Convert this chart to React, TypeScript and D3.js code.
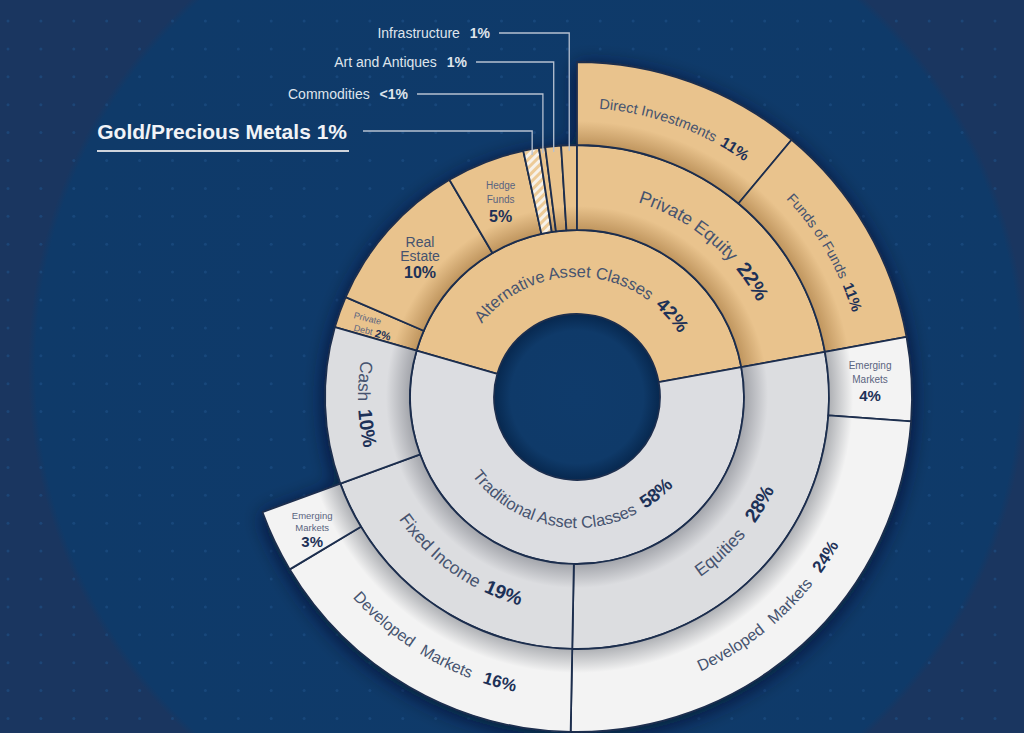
import * as d3 from 'd3';

// inner ring
const GROUP_NAMES = ['Alternative Asset Classes', 'Traditional Asset Classes'];
const GROUP_PCT = ['42%', '58%'];

// middle ring
const ALT_NAMES = ['Private Debt', 'Real Estate', 'Hedge Funds', 'Gold/Precious Metals', 'Commodities', 'Art and Antiques', 'Infrastructure', 'Private Equity'];
const ALT_VALUES = [2, 10, 5, 1, 0.4, 1, 1, 22];
const ALT_PCT = ['2%', '10%', '5%', '1%', '<1%', '1%', '1%', '22%'];

const TRAD_NAMES = ['Equities', 'Fixed Income', 'Cash'];
const TRAD_VALUES = [28, 19, 10];
const TRAD_PCT = ['28%', '19%', '10%'];

// outer ring
const PE_NAMES = ['Direct Investments', 'Funds of Funds'];
const PE_VALUES = [11, 11];
const EQ_NAMES = ['Emerging Markets', 'Developed Markets'];
const EQ_VALUES = [4, 24];
const FI_NAMES = ['Developed Markets', 'Emerging Markets'];
const FI_VALUES = [16, 3];

const CALLOUTS = ['Infrastructure', 'Art and Antiques', 'Commodities', 'Gold/Precious Metals'];

type Datum = { id: string; name: string; pct: string; value: number; children?: Datum[] };

const SUB: Record<string, [string[], number[]]> = {
  'Private Equity': [PE_NAMES, PE_VALUES],
  Equities: [EQ_NAMES, EQ_VALUES],
  'Fixed Income': [FI_NAMES, FI_VALUES],
};

function branch(parent: string, names: string[], values: number[], pcts: string[]): Datum[] {
  return names.map((n, i) => {
    const id = parent + '/' + n;
    const sub = SUB[n];
    return {
      id,
      name: n,
      value: values[i],
      pct: pcts[i],
      children: sub ? sub[0].map((s, j) => ({ id: id + '/' + s, name: s, value: sub[1][j], pct: sub[1][j] + '%' })) : undefined,
    };
  });
}

const TREE: Datum = {
  id: 'root', name: 'root', pct: '', value: 0,
  children: [
    { id: GROUP_NAMES[0], name: GROUP_NAMES[0], pct: GROUP_PCT[0], value: 0, children: branch(GROUP_NAMES[0], ALT_NAMES, ALT_VALUES, ALT_PCT) },
    { id: GROUP_NAMES[1], name: GROUP_NAMES[1], pct: GROUP_PCT[1], value: 0, children: branch(GROUP_NAMES[1], TRAD_NAMES, TRAD_VALUES, TRAD_PCT) },
  ],
};

// layout
const W = 1024, H = 733;
const CX = 577, CY = 397;
const RADII = [83, 167, 252, 335];
const FONT = "'Liberation Sans', Arial, sans-serif";
const NAME_C = '#46536f';
const PCT_C = '#1d3157';
const SMALL_C = '#5a6480';

type ArcLabel = { kind: 'arc'; dir: 'cw' | 'ccw'; r: number; size: number; pctSize: number; gap?: number; ws?: number };
type StackLabel = { kind: 'stack'; lines: string[]; size: number; pctSize: number; dy?: number; lh?: number; color?: string };
type InlineLabel = { kind: 'inline'; size: number; pctSize: number; rotate: number };

const A = GROUP_NAMES[0], T = GROUP_NAMES[1];
const LABELS: Record<string, ArcLabel | StackLabel | InlineLabel> = {
  [A]: { kind: 'arc', dir: 'cw', r: 120, size: 16.5, pctSize: 18.5, gap: 3 },
  [T]: { kind: 'arc', dir: 'ccw', r: 131, size: 16.5, pctSize: 18.5, gap: 3 },
  [A + '/Private Equity']: { kind: 'arc', dir: 'cw', r: 204, size: 18, pctSize: 20, gap: 3 },
  [A + '/Private Equity/Direct Investments']: { kind: 'arc', dir: 'cw', r: 289, size: 14.5, pctSize: 15.5, gap: 2 },
  [A + '/Private Equity/Funds of Funds']: { kind: 'arc', dir: 'cw', r: 288, size: 14, pctSize: 15, gap: 2 },
  [A + '/Real Estate']: { kind: 'stack', lines: ['Real', 'Estate'], size: 14, pctSize: 16, lh: 14 },
  [A + '/Hedge Funds']: { kind: 'stack', lines: ['Hedge', 'Funds'], size: 10, pctSize: 16, lh: 14, color: SMALL_C },
  [A + '/Private Debt']: { kind: 'inline', size: 9, pctSize: 11, rotate: 14 },
  [T + '/Equities']: { kind: 'arc', dir: 'ccw', r: 218, size: 17.5, pctSize: 19.5, gap: 9 },
  [T + '/Fixed Income']: { kind: 'arc', dir: 'ccw', r: 216, size: 17.5, pctSize: 19.5, gap: 2 },
  [T + '/Cash']: { kind: 'arc', dir: 'ccw', r: 219, size: 17.5, pctSize: 19.5, gap: 3 },
  [T + '/Equities/Emerging Markets']: { kind: 'stack', lines: ['Emerging', 'Markets'], size: 10, pctSize: 15, lh: 14, color: SMALL_C },
  [T + '/Equities/Developed Markets']: { kind: 'arc', dir: 'ccw', r: 301, size: 16, pctSize: 17, ws: 6, gap: 2 },
  [T + '/Fixed Income/Developed Markets']: { kind: 'arc', dir: 'ccw', r: 301, size: 16, pctSize: 17, ws: 6, gap: 2 },
  [T + '/Fixed Income/Emerging Markets']: { kind: 'stack', lines: ['Emerging', 'Markets'], size: 9.5, pctSize: 15, lh: 12, dy: 6, color: SMALL_C },
};

// callout label placement (text right edge, label centre y)
const CALLOUT_POS: Record<string, { x: number; y: number; size: number; pctSize: number }> = {
  Infrastructure: { x: 490, y: 33, size: 14, pctSize: 14 },
  'Art and Antiques': { x: 467, y: 62, size: 14, pctSize: 14 },
  Commodities: { x: 408, y: 94, size: 14, pctSize: 14 },
  'Gold/Precious Metals': { x: 347, y: 131, size: 21, pctSize: 21 },
};

const SHADE: Record<string, [string, string]> = {
  'alt-1': ['#E9C38D', '#E9C38D'],
  'alt-2': ['#E9C38D', '#BF955E'],
  'alt-3': ['#E9C38D', '#BF955E'],
  'trad-1': ['#DCDDE1', '#DCDDE1'],
  'trad-2': ['#DCDDE0', '#A3A5AB'],
  'trad-3': ['#F3F3F3', '#AEB0B4'],
};

type RNode = d3.HierarchyRectangularNode<Datum>;

function arcPath(r: number, s: number, e: number, dir: 'cw' | 'ccw') {
  const p = (a: number) => `${CX + r * Math.sin(a)},${CY - r * Math.cos(a)}`;
  const large = e - s > Math.PI ? 1 : 0;
  return dir === 'cw'
    ? `M${p(s)} A${r},${r} 0 ${large} 1 ${p(e)}`
    : `M${p(e)} A${r},${r} 0 ${large} 0 ${p(s)}`;
}

export default function App() {
  const root = d3.hierarchy<Datum>(TREE).sum((d) => (d.children ? 0 : d.value));
  d3.partition<Datum>().size([2 * Math.PI, 4])(root);
  const nodes = (root.descendants() as RNode[]).filter((d) => d.depth > 0);
  const pe = nodes.find((d) => d.data.name === 'Private Equity')!;
  const rot = -pe.x0;
  const sA = (d: RNode) => d.x0 + rot;
  const eA = (d: RNode) => d.x1 + rot;

  const arc = d3.arc<RNode>()
    .innerRadius((d) => RADII[d.depth - 1])
    .outerRadius((d) => RADII[d.depth])
    .startAngle(sA)
    .endAngle(eA);

  const groupOf = (d: RNode) => (d.ancestors().find((a) => a.depth === 1)!.data.name === A ? 'alt' : 'trad');
  const fillOf = (d: RNode) => (d.data.name === 'Gold/Precious Metals' ? 'url(#gold)' : `url(#g-${groupOf(d)}-${d.depth})`);

  // background dot grid
  const dotX = d3.range(8, W, 32.9);
  const dotY = d3.range(21, H, 27.9);

  return (
    <svg width={W} height={H} style={{ position: 'absolute', left: 0, top: 0, display: 'block' }} fontFamily={FONT}>
      <defs>
        <radialGradient id="bgGlow" gradientUnits="userSpaceOnUse" cx={528} cy={368} r={500}>
          <stop offset="0" stopColor="#0e3a6b" />
          <stop offset="0.985" stopColor="#0f3a69" />
          <stop offset="1" stopColor="#1a3660" />
        </radialGradient>
        <radialGradient id="hole" gradientUnits="userSpaceOnUse" cx={CX} cy={CY} r={RADII[0]}>
          <stop offset="0" stopColor="#0f3b6b" />
          <stop offset="0.8" stopColor="#0f3a69" />
          <stop offset="1" stopColor="#07284f" />
        </radialGradient>
        {Object.entries(SHADE).map(([k, [base, shade]]) => {
          const depth = +k.split('-')[1];
          const r0 = RADII[depth - 1], r1 = RADII[depth];
          return (
            <radialGradient key={k} id={`g-${k}`} gradientUnits="userSpaceOnUse" cx={0} cy={0} r={r1}>
              <stop offset={r0 / r1} stopColor={shade} />
              <stop offset={(r0 + 24) / r1} stopColor={base} />
              <stop offset="1" stopColor={base} />
            </radialGradient>
          );
        })}
        <pattern id="gold" width={6} height={6} patternUnits="userSpaceOnUse" patternTransform="rotate(45)">
          <rect width={6} height={6} fill="#F7F2EA" />
          <rect width={3} height={6} fill="#EDCB98" />
        </pattern>
        <filter id="shadow" x="-20%" y="-20%" width="140%" height="140%">
          <feDropShadow dx={0} dy={4} stdDeviation={10} floodColor="#04142a" floodOpacity={0.75} />
        </filter>
      </defs>

      <rect width={W} height={H} fill="#1a3660" />
      <circle cx={528} cy={368} r={500} fill="url(#bgGlow)" />
      <g fill="#1f5187" opacity={0.6}>
        {dotX.map((x) => dotY.map((y) => <circle key={`${x}-${y}`} cx={x} cy={y} r={1.5} />))}
      </g>

      <g transform={`translate(${CX},${CY})`} filter="url(#shadow)">
        {nodes.map((d) => (
          <path key={d.data.id} d={arc(d)!} fill={fillOf(d)} stroke="#1c2d4d" strokeWidth={1.8} strokeLinejoin="round" />
        ))}
      </g>
      <circle cx={CX} cy={CY} r={RADII[0] - 0.9} fill="url(#hole)" />

      {/* labels */}
      {nodes.map((d, i) => {
        const cfg = LABELS[d.data.id];
        if (!cfg) return null;
        if (cfg.kind === 'arc') {
          const pid = `lp-${i}`;
          return (
            <g key={pid}>
              <path id={pid} d={arcPath(cfg.r, sA(d), eA(d), cfg.dir)} fill="none" />
              <text fontSize={cfg.size} fill={NAME_C} wordSpacing={cfg.ws || 0}>
                <textPath href={`#${pid}`} startOffset="50%" textAnchor="middle">
                  {d.data.name}
                  <tspan dx={cfg.gap || 0} fontWeight="bold" fontSize={cfg.pctSize} fill={PCT_C}>{' ' + d.data.pct}</tspan>
                </textPath>
              </text>
            </g>
          );
        }
        const [cx0, cy0] = arc.centroid(d);
        const x = cx0 + CX, y = cy0 + CY;
        if (cfg.kind === 'inline') {
          return (
            <g key={`l-${i}`} transform={`translate(${x - 6},${y}) rotate(${cfg.rotate})`} textAnchor="middle">
              <text x={-8} y={-6} fontSize={cfg.size} fill={SMALL_C} dominantBaseline="central">{d.data.name.split(' ')[0]}</text>
              <text x={0} y={6} fontSize={cfg.size} fill={SMALL_C} dominantBaseline="central">
                {d.data.name.split(' ')[1]}
                <tspan dx={3} fontSize={cfg.pctSize} fontWeight="bold" fill={PCT_C}>{d.data.pct}</tspan>
              </text>
            </g>
          );
        }
        const lh = cfg.lh || 14;
        const y0 = y + (cfg.dy || 0) - lh - 2;
        return (
          <g key={`l-${i}`} textAnchor="middle">
            {cfg.lines.map((ln, j) => (
              <text key={ln} x={x} y={y0 + j * lh} fontSize={cfg.size} fill={cfg.color || NAME_C} dominantBaseline="central">{ln}</text>
            ))}
            <text x={x} y={y0 + cfg.lines.length * lh + cfg.pctSize * 0.15} fontSize={cfg.pctSize} fontWeight="bold" fill={PCT_C} dominantBaseline="central">{d.data.pct}</text>
          </g>
        );
      })}

      {/* callouts for the thin slices */}
      {CALLOUTS.map((name) => {
        const d = nodes.find((n) => n.data.name === name)!;
        const pos = CALLOUT_POS[name];
        const m = (sA(d) + eA(d)) / 2;
        const r = RADII[2] - 6;
        const lx = CX + r * Math.sin(m);
        const ly = CY - r * Math.cos(m);
        const gold = name === 'Gold/Precious Metals';
        return (
          <g key={name}>
            <polyline points={`${pos.x + (gold ? 16 : 9)},${pos.y} ${lx},${pos.y} ${lx},${ly}`} fill="none" stroke="#b7c1d1" strokeWidth={1.3} />
            <text x={pos.x} y={pos.y} textAnchor="end" dominantBaseline="central" fontSize={pos.size} fill={gold ? '#f1f3f7' : '#dfe4ec'} fontWeight={gold ? 'bold' : 'normal'}>
              {name}
              <tspan dx={gold ? 0 : 6} fontWeight="bold" fontSize={pos.pctSize}>{' ' + d.data.pct}</tspan>
            </text>
            {gold && <line x1={97} x2={349} y1={pos.y + 20} y2={pos.y + 20} stroke="#cfd4dc" strokeWidth={2} />}
          </g>
        );
      })}
    </svg>
  );
}
